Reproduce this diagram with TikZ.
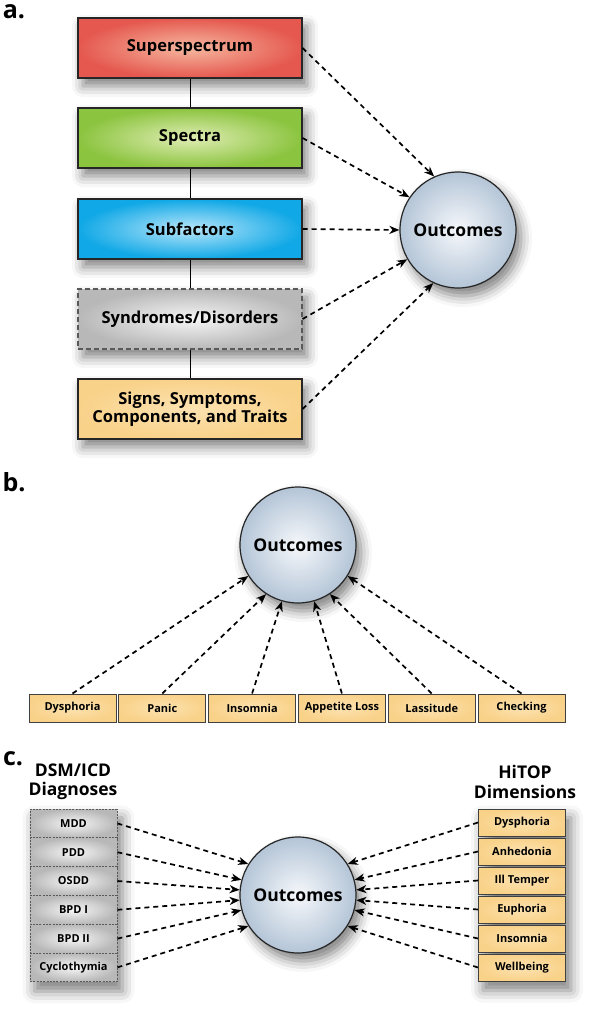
\documentclass[tikz,border=0pt]{standalone}
\usepackage{fontspec}
\setmainfont{Open Sans}
\usetikzlibrary{arrows.meta,shadows.blur,backgrounds}
\definecolor{redout}{HTML}{E5584F}
\definecolor{redin}{HTML}{F6B8A0}
\definecolor{greenout}{HTML}{8BC43F}
\definecolor{greenin}{HTML}{E0EDB4}
\definecolor{blueout}{HTML}{10A8E6}
\definecolor{bluein}{HTML}{B8E6FA}
\definecolor{greyout}{HTML}{B8B8B8}
\definecolor{greyin}{HTML}{F6F6F6}
\definecolor{tan}{HTML}{F9D28A}
\definecolor{tanin}{HTML}{FCE2B0}
\definecolor{ballout}{HTML}{B4C5D7}
\definecolor{ballin}{HTML}{F6F8FB}
\tikzset{
  softshadow/.style={blur shadow={shadow xshift=5pt,shadow yshift=-8pt,
    shadow blur radius=11pt,shadow opacity=50}},
  box/.style={draw=black!85,line width=1.2pt,minimum width=224pt,minimum height=60pt,
    inner sep=0pt,align=center,font=\fontsize{16.5}{18}\selectfont\bfseries,softshadow},
  outcome/.style={circle,draw=black!85,line width=1.2pt,minimum size=116pt,inner sep=0pt,
    shading=radial,inner color=ballin,outer color=ballout,
    font=\fontsize{17.5}{20}\selectfont\bfseries,softshadow},
  tanbox/.style={draw=black!75,line width=1pt,minimum width=87pt,minimum height=28pt,
    inner sep=0pt,shading=radial,inner color=tanin,outer color=tan,
    font=\fontsize{11}{13}\selectfont\bfseries},
  dsmbox/.style={draw=black!65,line width=0.8pt,dash pattern=on 2pt off 1.3pt,
    minimum width=87pt,minimum height=28.8pt,inner sep=0pt,
    shading=radial,inner color=greyin,outer color=greyout,
    font=\fontsize{11}{13}\selectfont\bfseries},
  lettertag/.style={font=\fontsize{25}{25}\selectfont\bfseries},
  head/.style={align=center,font=\fontsize{17.5}{19.5}\selectfont\bfseries},
  arr/.style={->,line width=1.7pt,dash pattern=on 5pt off 4pt},
  rowshadow/.style={blur shadow={shadow xshift=5pt,shadow yshift=-9pt,
    shadow blur radius=12pt,shadow opacity=50}}
}
\begin{document}
\begin{tikzpicture}[>={Stealth[length=10pt,width=8pt,inset=3pt]},x=1pt,y=-1pt]
\useasboundingbox (0,0) rectangle (600,1020);
% a.
\node[lettertag] (laba) at (14,12) {a.};
\node[box,shading=radial,inner color=redin,outer color=redout] (sup) at (190,48) {Superspectrum};
\node[box,shading=radial,inner color=greenin,outer color=greenout] (spe) at (190,138) {Spectra};
\node[box,shading=radial,inner color=bluein,outer color=blueout] (sub) at (190,229) {Subfactors};
\node[box,shading=radial,inner color=greyin,outer color=greyout,
  draw=black!65,dash pattern=on 5pt off 3pt] (syn) at (190,319) {Syndromes/Disorders};
\node[box,shading=radial,inner color=tanin,outer color=tan] (sig) at (190,409) {Signs, Symptoms,\\Components, and Traits};
\node[outcome] (outa) at (458,230) {Outcomes};
\draw[line width=1pt] (sup) -- (spe);
\draw[line width=1pt] (spe) -- (sub);
\draw[line width=1pt] (sub) -- (syn);
\draw[line width=1pt] (syn) -- (sig);
\draw[arr] (sup.east) -- (outa.114);
\draw[arr] (spe.east) -- (outa.146);
\draw[arr] (sub.east) -- (outa.west);
\draw[arr] (syn.east) -- (outa.210);
\draw[arr] (sig.east) -- (outa.245);
% b.
\node[lettertag] (labb) at (14,482) {b.};
\node[outcome] (outb) at (298,545) {Outcomes};
\node[tanbox] (dys) at (72.5,708) {Dysphoria};
\node[tanbox] (pan) at (162.3,708) {Panic};
\node[tanbox] (ins) at (252.1,708) {Insomnia};
\node[tanbox] (app) at (341.9,708) {Appetite Loss};
\node[tanbox] (las) at (431.7,708) {Lassitude};
\node[tanbox] (che) at (521.5,708) {Checking};
\begin{scope}[on background layer]
\path[rowshadow] (dys.north west) rectangle (che.south east);
\end{scope}
\draw[arr] (dys.north) -- (outb.212);
\draw[arr] (pan.north) -- (outb.237);
\draw[arr] (ins.north) -- (outb.254);
\draw[arr] (app.north) -- (outb.286);
\draw[arr] (las.north) -- (outb.303);
\draw[arr] (che.north) -- (outb.328);
% c.
\node[lettertag] (labc) at (13,759) {c.};
\node[head] (dsm) at (73,782) {DSM/ICD\\Diagnoses};
\node[head] (hitop) at (525,782) {HiTOP\\Dimensions};
\node[outcome] (outc) at (298,895) {Outcomes};
\node[dsmbox] (mdd) at (73.5,823.4) {MDD};
\node[dsmbox] (pdd) at (73.5,852.2) {PDD};
\node[dsmbox] (osdd) at (73.5,881) {OSDD};
\node[dsmbox] (bpdi) at (73.5,909.8) {BPD I};
\node[dsmbox] (bpdii) at (73.5,938.6) {BPD II};
\node[dsmbox] (cyc) at (73.5,967.4) {Cyclothymia};
\node[tanbox,minimum height=27pt] (dysc) at (522,822.5) {Dysphoria};
\node[tanbox,minimum height=27pt] (anh) at (522,851.5) {Anhedonia};
\node[tanbox,minimum height=27pt] (ill) at (522,880.5) {Ill Temper};
\node[tanbox,minimum height=27pt] (eup) at (522,909.5) {Euphoria};
\node[tanbox,minimum height=27pt] (insc) at (522,938.5) {Insomnia};
\node[tanbox,minimum height=27pt] (wel) at (522,967.5) {Wellbeing};
\begin{scope}[on background layer]
\path[rowshadow] (mdd.north west) rectangle (cyc.south east);
\path[rowshadow] (dysc.north west) rectangle (wel.south east);
\end{scope}
\draw[arr] (mdd.east) -- (outc.148);
\draw[arr] (pdd.east) -- (outc.165);
\draw[arr] (osdd.east) -- (outc.175);
\draw[arr] (bpdi.east) -- (outc.185);
\draw[arr] (bpdii.east) -- (outc.195);
\draw[arr] (cyc.east) -- (outc.212);
\draw[arr] (dysc.west) -- (outc.32);
\draw[arr] (anh.west) -- (outc.15);
\draw[arr] (ill.west) -- (outc.5);
\draw[arr] (eup.west) -- (outc.-5);
\draw[arr] (insc.west) -- (outc.-15);
\draw[arr] (wel.west) -- (outc.-32);
\end{tikzpicture}
\end{document}
